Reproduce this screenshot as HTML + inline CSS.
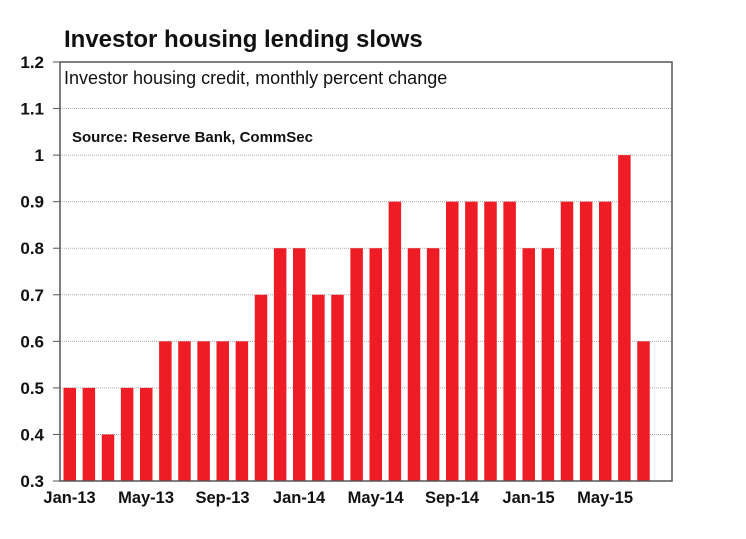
<!DOCTYPE html>
<html><head><style>body{margin:0;background:#fff}</style></head><body>
<svg width="746" height="534" xmlns="http://www.w3.org/2000/svg" font-family="Liberation Sans, Arial, sans-serif">
<rect width="746" height="534" fill="#fff"/>
<text x="64" y="47" font-size="24" font-weight="bold" fill="#111">Investor housing lending slows</text>
<g id="grid" stroke="#aaa" stroke-dasharray="1,1" stroke-width="1"></g>
<g id="bars" fill="#ee1c25"></g>
<rect x="60" y="62" width="612" height="419" fill="none" stroke="#555" stroke-width="1.5"/>
<g id="ylab" font-size="17" font-weight="bold" fill="#111" text-anchor="end"></g>
<g id="xlab" font-size="16.5" font-weight="bold" fill="#111" text-anchor="middle"></g>
<text x="64" y="84" font-size="18" fill="#111">Investor housing credit, monthly percent change</text>
<text x="72" y="142" font-size="15" font-weight="bold" fill="#111">Source: Reserve Bank, CommSec</text>
</svg>
<script>
const ns="http://www.w3.org/2000/svg";
function el(p,t,a,txt){const e=document.createElementNS(ns,t);for(const k in a)e.setAttribute(k,a[k]);if(txt!==undefined)e.textContent=txt;document.getElementById(p).appendChild(e);}
const y=v=>481-(v-0.3)/0.9*419;
for(let i=0;i<=9;i++){const v=0.3+i*0.1,yy=y(v);
 if(i>0&&i<9)el('grid','line',{x1:60,x2:672,y1:yy,y2:yy});
 el('grid','line',{x1:53,x2:60,y1:yy,y2:yy,'stroke-dasharray':'none',stroke:'#555'});
 el('ylab','text',{x:44,y:yy+6},[ '0.3','0.4','0.5','0.6','0.7','0.8','0.9','1','1.1','1.2'][i]);}
const d=[.5,.5,.4,.5,.5,.6,.6,.6,.6,.6,.7,.8,.8,.7,.7,.8,.8,.9,.8,.8,.9,.9,.9,.9,.8,.8,.9,.9,.9,1,.6];
const w=612/32;
d.forEach((v,i)=>{el('bars','rect',{x:60+i*w+3.5,y:y(v),width:12.5,height:481-y(v)});});
['Jan-13','May-13','Sep-13','Jan-14','May-14','Sep-14','Jan-15','May-15'].forEach((t,k)=>el('xlab','text',{x:60+(k*4+0.5)*w,y:503},t));
</script>
</body></html>
